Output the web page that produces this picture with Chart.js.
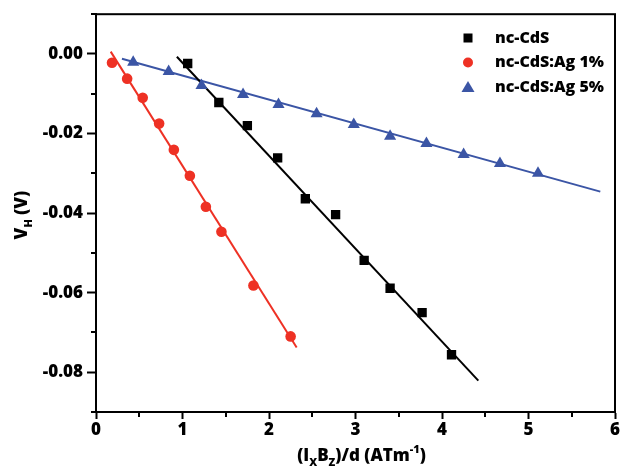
<!DOCTYPE html>
<html><head><meta charset="utf-8">
<script src="https://cdn.jsdelivr.net/npm/chart.js@4/dist/chart.umd.min.js"></script>
<style>html,body{margin:0;padding:0;background:#fff}#wrap{width:622px;height:471px}</style>
</head><body><div id="wrap"><canvas id="c" width="622" height="471"></canvas></div>
<script>
// ---- data ----
const seriesNames = ['nc-CdS', 'nc-CdS:Ag 1%', 'nc-CdS:Ag 5%'];
const cdsX = [1.06, 1.42, 1.75, 2.10, 2.42, 2.77, 3.10, 3.40, 3.77, 4.11];
const cdsY = [-0.0024, -0.0122, -0.0180, -0.0261, -0.0364, -0.0404, -0.0519, -0.0589, -0.0650, -0.0756];
const ag1X = [0.185, 0.36, 0.54, 0.73, 0.90, 1.085, 1.27, 1.45, 1.82, 2.25];
const ag1Y = [-0.0022, -0.0062, -0.0110, -0.0175, -0.0241, -0.0306, -0.0384, -0.0447, -0.0582, -0.0710];
const ag5X = [0.43, 0.84, 1.22, 1.70, 2.11, 2.55, 2.98, 3.40, 3.82, 4.25, 4.67, 5.11];
const ag5Y = [-0.0021, -0.0044, -0.0079, -0.0102, -0.0127, -0.0150, -0.0177, -0.0207, -0.0225, -0.0253, -0.0275, -0.0300];
// linear fit line end points
const cdsFitX = [0.935, 4.42];
const cdsFitY = [-0.0007, -0.0821];
const ag1FitX = [0.17, 2.32];
const ag1FitY = [0.0006, -0.0738];
const ag5FitX = [0.30, 5.83];
const ag5FitY = [-0.0012, -0.0346];
// axis ticks
const xMajorTicks = [0, 1, 2, 3, 4, 5, 6];
const xMinorTicks = [0.5, 1.5, 2.5, 3.5, 4.5, 5.5];
const yMajorTicks = [0, -0.02, -0.04, -0.06, -0.08];
const yMinorTicks = [0.01, -0.01, -0.03, -0.05, -0.07, -0.09];

const BLACK = '#000000', RED = '#ee3124', BLUE = '#3b55a5';
const FONT = "'Open Sans', 'DejaVu Sans', sans-serif";
const W = '800';
const pts = (xs, ys) => xs.map((x, i) => ({x, y: ys[i]}));

const frame = {
  id: 'frame',
  afterDraw(chart) {
    const {ctx, chartArea: a, scales: {x, y}} = chart;
    ctx.save();
    ctx.strokeStyle = '#000'; ctx.lineWidth = 2;
    ctx.strokeRect(a.left, a.top, a.right - a.left, a.bottom - a.top);
    // minor ticks
    ctx.beginPath();
    xMinorTicks.forEach(v => { const p = Math.round(x.getPixelForValue(v)); ctx.moveTo(p, a.bottom); ctx.lineTo(p, a.bottom + 5); });
    yMinorTicks.forEach(v => { const p = Math.round(y.getPixelForValue(v)); ctx.moveTo(a.left, p); ctx.lineTo(a.left - 5, p); });
    ctx.stroke();
    // legend
    const lx = 468, rows = [38, 62.5, 87];
    const colors = [BLACK, RED, BLUE];
    rows.forEach((ry, i) => {
      ctx.fillStyle = colors[i];
      ctx.beginPath();
      if (i === 0) { ctx.fillRect(lx - 4.5, ry - 4.5, 9, 9); }
      else if (i === 1) { ctx.arc(lx, ry, 5, 0, Math.PI * 2); ctx.fill(); }
      else { ctx.moveTo(lx, ry - 6); ctx.lineTo(lx + 6.5, ry + 5); ctx.lineTo(lx - 6.5, ry + 5); ctx.closePath(); ctx.fill(); }
      ctx.fillStyle = '#000';
      ctx.font = W + ' 16px ' + FONT;
      ctx.textBaseline = 'middle'; ctx.textAlign = 'left';
      ctx.fillText(seriesNames[i], 495, ry);
    });
    // x-axis title: (I_X B_Z)/d (ATm^-1)
    const parts = [['(I', 'n'], ['X', 'sub'], ['B', 'n'], ['Z', 'sub'], [')/d (ATm', 'n'], ['-1', 'sup'], [')', 'n']];
    const measure = (t, k) => { ctx.font = W + (k === 'n' ? ' 17px ' : ' 11px ') + FONT; return ctx.measureText(t).width; };
    let total = parts.reduce((s, [t, k]) => s + measure(t, k), 0);
    let cx = (a.left + a.right) / 2 - total / 2 + 6;
    const by = 461;
    ctx.textBaseline = 'alphabetic'; ctx.fillStyle = '#000';
    parts.forEach(([t, k]) => {
      const w = measure(t, k);
      const dy = k === 'sub' ? 5 : (k === 'sup' ? -8 : 0);
      ctx.fillText(t, cx, by + dy);
      cx += w;
    });
    // y-axis title: V_H (V)
    ctx.translate(27, (a.top + a.bottom) / 2 + 2);
    ctx.rotate(-Math.PI / 2);
    const yparts = [['V', 'n'], ['H', 'sub'], [' (V)', 'n']];
    total = yparts.reduce((s, [t, k]) => s + measure(t, k), 0);
    cx = -total / 2;
    yparts.forEach(([t, k]) => {
      const w = measure(t, k);
      ctx.fillText(t, cx, k === 'sub' ? 5 : 0);
      cx += w;
    });
    ctx.restore();
  }
};

new Chart(document.getElementById('c'), {
  type: 'scatter',
  data: {
    datasets: [
      {label: seriesNames[0] + ' fit', data: pts(cdsFitX, cdsFitY), showLine: true, borderColor: BLACK, borderWidth: 2, pointRadius: 0, order: 2},
      {label: seriesNames[1] + ' fit', data: pts(ag1FitX, ag1FitY), showLine: true, borderColor: RED, borderWidth: 2, pointRadius: 0, order: 2},
      {label: seriesNames[2] + ' fit', data: pts(ag5FitX, ag5FitY), showLine: true, borderColor: BLUE, borderWidth: 2, pointRadius: 0, order: 2},
      {label: seriesNames[0], data: pts(cdsX, cdsY), pointStyle: 'rect', pointRadius: 6.6, backgroundColor: BLACK, borderColor: BLACK, borderWidth: 0, order: 1},
      {label: seriesNames[1], data: pts(ag1X, ag1Y), pointStyle: 'circle', pointRadius: 5.3, backgroundColor: RED, borderColor: RED, borderWidth: 0, order: 1},
      {label: seriesNames[2], data: pts(ag5X, ag5Y), pointStyle: 'triangle', pointRadius: 7, backgroundColor: BLUE, borderColor: BLUE, borderWidth: 0, order: 1}
    ]
  },
  options: {
    responsive: false, animation: false,
    layout: {padding: {top: 14, right: 6, left: 0, bottom: 0}},
    plugins: {legend: {display: false}, tooltip: {enabled: false}},
    scales: {
      x: {
        type: 'linear', min: 0, max: 6,
        afterBuildTicks: s => { s.ticks = xMajorTicks.map(v => ({value: v})); },
        afterFit: s => { s.height = 59; },
        border: {display: true, color: '#000', width: 2},
        grid: {drawOnChartArea: false, drawTicks: true, tickLength: 7, tickColor: '#000', tickWidth: 2},
        ticks: {color: '#000', font: {family: FONT, size: 17, weight: W}, padding: 1, maxRotation: 0, callback: v => String(v)}
      },
      y: {
        type: 'linear', min: -0.09, max: 0.01,
        afterBuildTicks: s => { s.ticks = yMajorTicks.map(v => ({value: v})); },
        afterFit: s => { s.width = 96; },
        border: {display: true, color: '#000', width: 2},
        grid: {drawOnChartArea: false, drawTicks: true, tickLength: 9, tickColor: '#000', tickWidth: 2},
        ticks: {color: '#000', font: {family: FONT, size: 17, weight: W}, padding: 4, callback: v => v.toFixed(2)}
      }
    }
  },
  plugins: [frame]
});
</script></body></html>
